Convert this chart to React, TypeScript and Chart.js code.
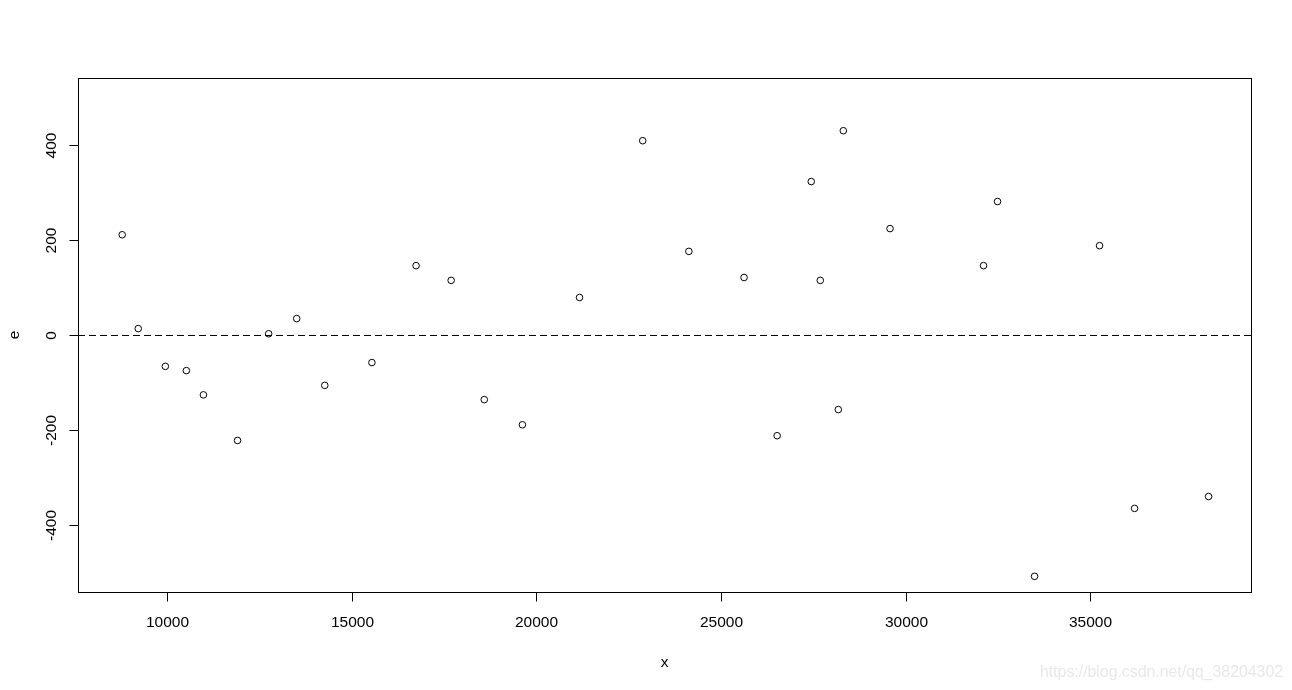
import React, { useEffect, useRef } from "react";
import { Chart, registerables } from "chart.js";

Chart.register(...registerables);

const xValues: number[] = [
  8777, 9212, 9946, 10516, 10978, 11902, 12745, 13505, 14266, 15543,
  16739, 17690, 18587, 19620, 21168, 22880, 24130, 25625, 26522, 27446,
  27690, 28179, 28315, 29580, 32114, 32493, 33496, 35257, 36206, 38211,
];
const eValues: number[] = [
  212, 14.5, -65, -74, -125, -221, 3.6, 35.5, -105, -57,
  147, 116, -135, -188, 80, 410, 177, 122, -211, 324,
  116, -156, 431, 225, 147, 282, -507, 189, -364, -339,
];
const xTicks: number[] = [10000, 15000, 20000, 25000, 30000, 35000];
const yTicks: number[] = [-400, -200, 0, 200, 400];
const xRange: number[] = [7580, 39360];
const yRange: number[] = [-540, 542];
const xTitle = "x";
const yTitle = "e";
const watermark = "https://blog.csdn.net/qq_38204302";

const FONT = "'Liberation Sans', Arial, sans-serif";

const rAxesPlugin = {
  id: "rAxes",
  afterDraw(chart: any) {
    const { ctx, chartArea, scales } = chart;
    const { left, right, top, bottom } = chartArea;
    const xs = scales.x;
    const ys = scales.y;
    ctx.save();
    ctx.strokeStyle = "#000";
    ctx.lineWidth = 1;
    ctx.setLineDash([]);
    // box
    ctx.strokeRect(Math.round(left) + 0.5, Math.round(top) + 0.5, Math.round(right - left), Math.round(bottom - top));
    // x ticks
    ctx.fillStyle = "#000";
    ctx.font = `15.5px ${FONT}`;
    ctx.textAlign = "center";
    ctx.textBaseline = "alphabetic";
    xTicks.forEach((v) => {
      const px = Math.round(xs.getPixelForValue(v)) + 0.5;
      ctx.beginPath();
      ctx.moveTo(px, Math.round(bottom) + 0.5);
      ctx.lineTo(px, Math.round(bottom) + 9.5);
      ctx.stroke();
      ctx.fillText(String(v), px, 627);
    });
    // y ticks
    yTicks.forEach((v) => {
      const py = Math.floor(ys.getPixelForValue(v)) + 0.5;
      ctx.beginPath();
      ctx.moveTo(Math.round(left) + 0.5, py);
      ctx.lineTo(Math.round(left) - 8.5, py);
      ctx.stroke();
      ctx.save();
      ctx.translate(56, py);
      ctx.rotate(-Math.PI / 2);
      ctx.textAlign = "center";
      ctx.fillText(String(v), 0, 0);
      ctx.restore();
    });
    // titles
    ctx.textAlign = "center";
    ctx.fillText(xTitle, (left + right) / 2, 667);
    ctx.save();
    ctx.translate(19, (top + bottom) / 2);
    ctx.rotate(-Math.PI / 2);
    ctx.fillText(yTitle, 0, 0);
    ctx.restore();
    // watermark
    ctx.fillStyle = "#e8e8e8";
    ctx.font = `16px ${FONT}`;
    ctx.textAlign = "right";
    ctx.fillText(watermark, 1283, 677, 243);
    ctx.restore();
  },
};

export default function App() {
  const canvasRef = useRef<HTMLCanvasElement | null>(null);

  useEffect(() => {
    if (!canvasRef.current) return;
    const points = xValues.map((x, i) => ({ x, y: eValues[i] }));
    const chart = new Chart(canvasRef.current, {
      type: "scatter",
      data: {
        datasets: [
          {
            label: "e",
            data: points,
            pointStyle: "circle",
            pointRadius: 3.3,
            pointHoverRadius: 3.3,
            pointBorderWidth: 1,
            pointBorderColor: "#000",
            pointBackgroundColor: "rgba(0,0,0,0)",
            showLine: false,
          },
          {
            label: "zero",
            type: "line",
            data: [
              { x: xRange[0], y: 0 },
              { x: xRange[1], y: 0 },
            ],
            borderColor: "#000",
            borderWidth: 1,
            borderDash: [7, 4],
            pointRadius: 0,
            fill: false,
          },
        ],
      },
      options: {
        animation: false,
        responsive: false,
        devicePixelRatio: 1,
        layout: { padding: { left: 78, right: 41, top: 78, bottom: 98 } },
        plugins: { legend: { display: false }, tooltip: { enabled: false } },
        events: [],
        scales: {
          x: { type: "linear", min: xRange[0], max: xRange[1], display: false },
          y: { type: "linear", min: yRange[0], max: yRange[1], display: false },
        },
      },
      plugins: [rAxesPlugin],
    });
    return () => chart.destroy();
  }, []);

  return (
    <div style={{ position: "absolute", left: 0, top: 0, width: 1292, height: 690, background: "#fff" }}>
      <canvas ref={canvasRef} width={1292} height={690} />
    </div>
  );
}
